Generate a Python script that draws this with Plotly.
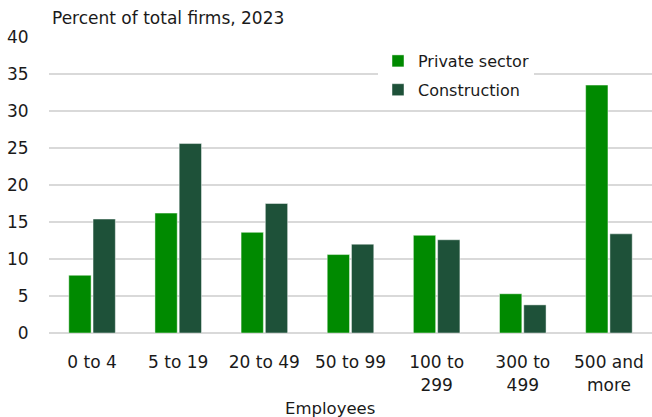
import plotly.graph_objects as go

# Firm size classes (number of employees)
size_classes = ["0 to 4", "5 to 19", "20 to 49", "50 to 99",
                "100 to<br>299", "300 to<br>499", "500 and<br>more"]

# Share of total firms, 2023 (percent)
private_sector = [7.8, 16.2, 13.6, 10.6, 13.2, 5.3, 33.5]
construction = [15.4, 25.6, 17.5, 12.0, 12.6, 3.8, 13.4]

y_ticks = [0, 5, 10, 15, 20, 25, 30, 35, 40]

FONT = "DejaVu Sans"
TEXT = "#1a1a1a"
GRID = "#D9D9D9"

fig = go.Figure()
fig.add_trace(go.Bar(
    x=size_classes, y=private_sector, name="Private sector",
    legendgroup="a",
    marker=dict(color="#008A00", line=dict(color="rgba(255,255,255,0.45)", width=1)),
))
fig.add_trace(go.Bar(
    x=size_classes, y=construction, name="Construction",
    legendgroup="b",
    marker=dict(color="#1E5139", line=dict(color="rgba(255,255,255,0.45)", width=1)),
))

fig.update_layout(
    width=652, height=417,
    margin=dict(l=49, r=0, t=37, b=84),
    paper_bgcolor="white", plot_bgcolor="white",
    font=dict(family=FONT, size=17, color=TEXT),
    barmode="group", bargap=0.437, bargroupgap=0.08,
    title=dict(text="Percent of total firms, 2023", font=dict(size=17, color=TEXT),
               xref="container", x=52 / 652, xanchor="left",
               yref="container", y=1 - 18 / 417, yanchor="middle"),
    legend=dict(x=(378 - 49) / 603, xanchor="left", y=1 - 7 / 296, yanchor="top",
                bgcolor="white", font=dict(size=16, color=TEXT),
                tracegroupgap=5, traceorder="grouped"),
    showlegend=True,
)

fig.update_xaxes(
    type="category", showgrid=False, showline=False, zeroline=False,
    ticks="outside", ticklen=14, tickcolor="rgba(0,0,0,0)",
    tickfont=dict(size=17, color=TEXT),
)
fig.update_yaxes(
    range=[0, 40], tickvals=y_ticks, showgrid=True, gridcolor=GRID, gridwidth=2,
    zeroline=True, zerolinecolor=GRID, zerolinewidth=2, showline=False,
    ticks="outside", ticklen=16, tickcolor="rgba(0,0,0,0)",
    tickfont=dict(size=17, color=TEXT),
)

fig.add_annotation(text="Employees", xref="paper", yref="paper",
                   x=(330 - 49) / 603, y=0, yshift=-75, xanchor="center", yanchor="middle",
                   showarrow=False, font=dict(size=16.5, color=TEXT))

fig.write_html("out.html")
